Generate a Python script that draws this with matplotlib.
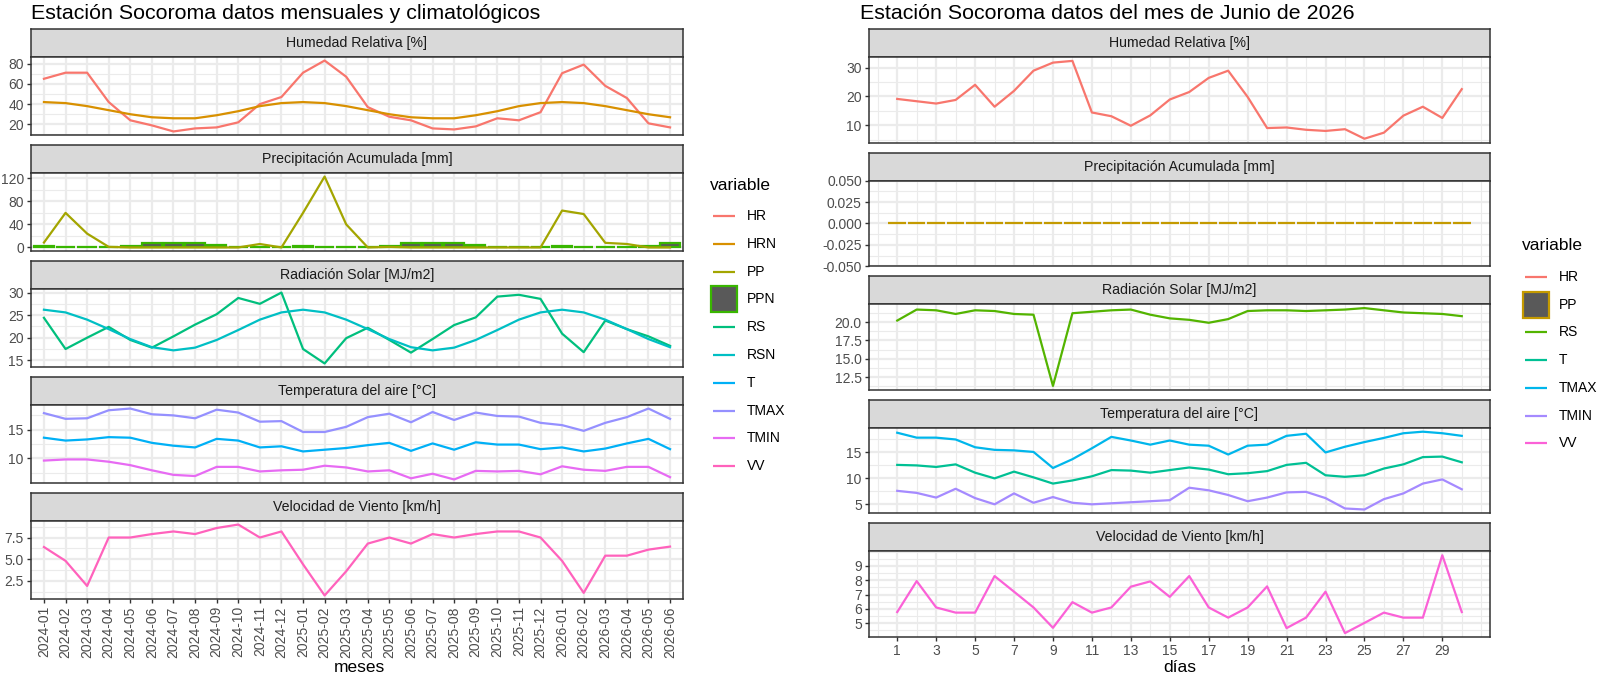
import matplotlib
matplotlib.use("Agg")
import matplotlib.pyplot as plt
from matplotlib.patches import Rectangle
from matplotlib.ticker import AutoMinorLocator

plt.rcParams['font.family'] = ['Liberation Sans', 'DejaVu Sans']
plt.rcParams['axes.unicode_minus'] = False

W, H = 1600, 677

# ---- datos mensuales (panel izquierdo) ----
meses = ['2024-01', '2024-02', '2024-03', '2024-04', '2024-05', '2024-06',
         '2024-07', '2024-08', '2024-09', '2024-10', '2024-11', '2024-12',
         '2025-01', '2025-02', '2025-03', '2025-04', '2025-05', '2025-06',
         '2025-07', '2025-08', '2025-09', '2025-10', '2025-11', '2025-12',
         '2026-01', '2026-02', '2026-03', '2026-04', '2026-05', '2026-06']
hr_m = [65, 71, 71, 42, 24, 19, 13, 16, 17, 22, 40, 47, 71, 83, 67, 37, 27.5, 24,
        16, 15, 18, 26, 24, 32, 70.5, 79, 58, 46, 21, 17]
hrn_m = [42, 41, 38, 34, 30, 27, 26, 26, 29, 33, 38, 41, 42, 41, 38, 34, 30, 27,
         26, 26, 29, 33, 38, 41, 42, 41, 38, 34, 30, 27]
pp_m = [8.5, 60, 24, 1, 0, 0, 0, 0, 0, 0, 6, 0, 60, 123, 40, 0, 1, 0,
        0, 0, 0, 0, 0, 0, 64, 58, 8, 6, 0, 0]
ppn_m = [3, 0.3, 0.3, 1.5, 2, 8, 8, 8, 5, 0, 0.3, 0.5, 3, 0.3, 0.3, 1.5, 2, 8,
         8, 8, 5, 0, 0.3, 0.5, 3, 0.3, 0.3, 1.5, 2, 8]
rs_m = [24.4, 17.5, 20, 22.4, 19.5, 17.8, 20.3, 22.9, 25.2, 28.8, 27.5, 30, 17.5, 14.3,
        19.9, 22.2, 19.5, 16.7, 19.7, 22.8, 24.5, 29.1, 29.5, 28.6, 20.9, 16.8, 23.8,
        21.9, 20.3, 18.2]
rsn_m = [26.2, 25.6, 24, 21.9, 19.7, 17.9, 17.2, 17.8, 19.5, 21.7, 24, 25.6, 26.2, 25.6,
         24, 21.9, 19.7, 17.9, 17.2, 17.8, 19.5, 21.7, 24, 25.6, 26.2, 25.6, 24, 21.9,
         19.7, 17.9]
t_m = [13.6, 13.1, 13.3, 13.7, 13.6, 12.7, 12.2, 11.9, 13.4, 13.1, 11.9, 12.1, 11.2, 11.5,
       11.8, 12.3, 12.7, 11.3, 12.6, 11.5, 12.8, 12.4, 12.4, 11.6, 11.9, 11.2, 11.7, 12.6,
       13.4, 11.6]
tmax_m = [17.9, 16.9, 17.0, 18.4, 18.7, 17.7, 17.5, 17.0, 18.5, 18.0, 16.4, 16.5, 14.6,
          14.6, 15.5, 17.2, 17.8, 16.3, 18.1, 16.7, 18.0, 17.4, 17.3, 16.2, 15.8, 14.8,
          16.2, 17.2, 18.7, 16.9]
tmin_m = [9.6, 9.8, 9.8, 9.4, 8.8, 7.9, 7.1, 6.9, 8.5, 8.5, 7.7, 7.9, 8.0, 8.7, 8.4, 7.7,
          7.9, 6.5, 7.3, 6.3, 7.8, 7.7, 7.8, 7.2, 8.6, 8.0, 7.8, 8.5, 8.5, 6.7]
vv_m = [6.4, 4.8, 1.9, 7.5, 7.5, 7.9, 8.2, 7.9, 8.6, 9.0, 7.5, 8.2, 4.4, 0.8, 3.6, 6.8,
        7.5, 6.8, 7.9, 7.5, 7.9, 8.2, 8.2, 7.5, 4.8, 1.1, 5.4, 5.4, 6.1, 6.45]

# ---- datos diarios junio 2026 (panel derecho) ----
dias = list(range(1, 31))
hr_d = [19.1, 18.3, 17.5, 18.75, 24, 16.4, 21.9, 28.9, 31.7, 32.3, 14.4, 13.1, 9.8, 13.4,
        18.9, 21.5, 26.4, 28.9, 19.8, 9.0, 9.2, 8.4, 8.0, 8.6, 5.3, 7.4, 13.3, 16.4, 12.5, 22.5]
pp_d = [0] * 30
rs_d = [20.2, 21.7, 21.6, 21.1, 21.6, 21.5, 21.1, 21.0, 11.3, 21.2, 21.4, 21.6, 21.7, 21.0,
        20.5, 20.3, 19.9, 20.4, 21.5, 21.6, 21.6, 21.5, 21.6, 21.7, 21.9, 21.6, 21.3, 21.2,
        21.1, 20.8]
t_d = [12.6, 12.5, 12.2, 12.7, 11.1, 10.0, 11.3, 10.2, 9.0, 9.6, 10.4, 11.6, 11.5, 11.1,
       11.6, 12.1, 11.7, 10.8, 11.0, 11.4, 12.6, 13.0, 10.6, 10.3, 10.6, 11.9, 12.7, 14.1,
       14.2, 13.1]
tmax_d = [18.8, 17.85, 17.85, 17.5, 16.0, 15.5, 15.4, 15.1, 12.0, 13.7, 15.8, 18.0, 17.3,
          16.5, 17.3, 16.5, 16.3, 14.6, 16.3, 16.5, 18.2, 18.6, 15.0, 16.1, 17.0, 17.8,
          18.7, 19.0, 18.7, 18.2]
tmin_d = [7.6, 7.2, 6.3, 8.0, 6.2, 5.0, 7.1, 5.3, 6.4, 5.3, 5.0, 5.2, 5.4, 5.6, 5.8, 8.2,
          7.7, 6.8, 5.6, 6.3, 7.3, 7.4, 6.2, 4.2, 4.0, 6.0, 7.1, 9.0, 9.8, 7.9]
vv_d = [5.78, 7.94, 6.1, 5.74, 5.74, 8.29, 7.2, 6.1, 4.68, 6.47, 5.74, 6.1, 7.55, 7.92,
        6.84, 8.29, 6.1, 5.39, 6.1, 7.57, 4.66, 5.39, 7.2, 4.31, 5.02, 5.74, 5.39, 5.39,
        9.74, 5.78]

facetas = ['Humedad Relativa [%]', 'Precipitación Acumulada [mm]', 'Radiación Solar [MJ/m2]',
           'Temperatura del aire [°C]', 'Velocidad de Viento [km/h]']

col_m = {'HR': '#F8766D', 'HRN': '#D89000', 'PP': '#A3A500', 'PPN': '#39B600',
         'RS': '#00BF7D', 'RSN': '#00BFC4', 'T': '#00B0F6', 'TMAX': '#9590FF',
         'TMIN': '#E76BF3', 'VV': '#FF62BC'}
col_d = {'HR': '#F8766D', 'PP': '#C49A00', 'RS': '#53B400', 'T': '#00C094',
         'TMAX': '#00B6EB', 'TMIN': '#A58AFF', 'VV': '#FB61D7'}

LW = 1.6
BORDER = '#333333'
fig = plt.figure(figsize=(W / 100, H / 100), dpi=100)

# capa en pixeles para titulos y leyendas
over = fig.add_axes([0, 0, 1, 1], zorder=5)
over.set_xlim(0, W)
over.set_ylim(H, 0)
over.axis('off')


def box(x0, y0, x1, y1):
    return [x0 / W, 1 - y1 / H, (x1 - x0) / W, (y1 - y0) / H]


def facets(x0, x1, top, strip_h, panel_h, gap):
    axs = []
    for i, name in enumerate(facetas):
        st = top + i * (strip_h + panel_h + gap)
        sax = fig.add_axes(box(x0, st, x1, st + strip_h))
        sax.set_facecolor('#D9D9D9')
        sax.set_xticks([])
        sax.set_yticks([])
        for s in sax.spines.values():
            s.set_color(BORDER)
            s.set_linewidth(1.1)
        sax.text(0.5, 0.5, name, ha='center', va='center', fontsize=10.2, color='#1A1A1A',
                 transform=sax.transAxes)
        ax = fig.add_axes(box(x0, st + strip_h, x1, st + strip_h + panel_h))
        ax.set_axisbelow(True)
        for s in ax.spines.values():
            s.set_color(BORDER)
            s.set_linewidth(1.1)
        ax.yaxis.set_minor_locator(AutoMinorLocator(2))
        ax.grid(which='major', color='#EBEBEB', linewidth=1.6)
        ax.grid(which='minor', color='#EBEBEB', linewidth=0.8)
        ax.tick_params(axis='y', which='major', length=3.2, width=1.0, color=BORDER,
                       labelsize=10, labelcolor='#4D4D4D', pad=2)
        ax.tick_params(axis='y', which='minor', length=0)
        axs.append(ax)
    return axs


def ylim(ax, series, zero=False):
    vals = [v for s in series for v in s]
    if zero:
        vals.append(0)
    lo, hi = min(vals), max(vals)
    if hi == lo:
        ax.set_ylim(lo - 0.05, hi + 0.05)
    else:
        pad = 0.05 * (hi - lo)
        ax.set_ylim(lo - pad, hi + pad)


def leyenda(x, y_title, y0, step, colores, caja):
    over.text(x, y_title, 'variable', fontsize=12.5, ha='left', va='center')
    for i, (k, c) in enumerate(colores.items()):
        y = y0 + i * step
        if k == caja:
            over.add_patch(Rectangle((x + 1, y - 13), 26, 26, facecolor='#595959',
                                     edgecolor=c, linewidth=LW))
        else:
            over.plot([x + 3, x + 25], [y, y], color=c, lw=LW, solid_capstyle='butt')
        over.text(x + 37, y, k, fontsize=10, ha='left', va='center')


# ================= panel izquierdo =================
L = facets(31, 683, 29, 28, 78, 10)
x = list(range(len(meses)))
L[0].plot(x, hr_m, color=col_m['HR'], lw=LW)
L[0].plot(x, hrn_m, color=col_m['HRN'], lw=LW)
ylim(L[0], [hr_m, hrn_m])
L[0].set_yticks([20, 40, 60, 80])

L[1].bar(x, ppn_m, width=0.9, color='#595959', edgecolor=col_m['PPN'], linewidth=LW)
L[1].plot(x, pp_m, color=col_m['PP'], lw=LW)
ylim(L[1], [pp_m, ppn_m], zero=True)
L[1].set_yticks([0, 40, 80, 120])

L[2].plot(x, rs_m, color=col_m['RS'], lw=LW)
L[2].plot(x, rsn_m, color=col_m['RSN'], lw=LW)
ylim(L[2], [rs_m, rsn_m])
L[2].set_yticks([15, 20, 25, 30])

L[3].plot(x, t_m, color=col_m['T'], lw=LW)
L[3].plot(x, tmax_m, color=col_m['TMAX'], lw=LW)
L[3].plot(x, tmin_m, color=col_m['TMIN'], lw=LW)
ylim(L[3], [t_m, tmax_m, tmin_m])
L[3].set_yticks([10, 15])

L[4].plot(x, vv_m, color=col_m['VV'], lw=LW)
ylim(L[4], [vv_m])
L[4].set_yticks([2.5, 5.0, 7.5], ['2.5', '5.0', '7.5'])

for i, ax in enumerate(L):
    ax.set_xlim(-0.6, len(meses) - 0.4)
    ax.set_xticks(x)
    if i < 4:
        ax.tick_params(axis='x', length=0, labelbottom=False)
    else:
        ax.set_xticklabels(meses, rotation=90)
        ax.tick_params(axis='x', length=3.2, width=1.0, color=BORDER, labelsize=10,
                       labelcolor='#4D4D4D', pad=2)

over.text(31, 19, 'Estación Socoroma datos mensuales y climatológicos',
          fontsize=15.4, va='baseline', ha='left', color='black')
over.text(359, 668, 'meses', fontsize=12.5, ha='center', va='center')
leyenda(710, 185, 216, 27.8, col_m, 'PPN')

# ================= panel derecho =================
RX0, RX1 = 869, 1490
R = facets(RX0, RX1, 29, 28, 85.6, 10)
R[0].plot(dias, hr_d, color=col_d['HR'], lw=LW)
ylim(R[0], [hr_d])
R[0].set_yticks([10, 20, 30])

R[1].bar(dias, pp_d, width=0.9, color='#595959', edgecolor=col_d['PP'], linewidth=LW)
ylim(R[1], [pp_d], zero=True)
R[1].set_yticks([-0.05, -0.025, 0, 0.025, 0.05],
                ['-0.050', '-0.025', '0.000', '0.025', '0.050'])

R[2].plot(dias, rs_d, color=col_d['RS'], lw=LW)
ylim(R[2], [rs_d])
R[2].set_yticks([12.5, 15, 17.5, 20], ['12.5', '15.0', '17.5', '20.0'])

R[3].plot(dias, t_d, color=col_d['T'], lw=LW)
R[3].plot(dias, tmax_d, color=col_d['TMAX'], lw=LW)
R[3].plot(dias, tmin_d, color=col_d['TMIN'], lw=LW)
ylim(R[3], [t_d, tmax_d, tmin_d])
R[3].set_yticks([5, 10, 15])

R[4].plot(dias, vv_d, color=col_d['VV'], lw=LW)
ylim(R[4], [vv_d])
R[4].set_yticks([5, 6, 7, 8, 9])

for i, ax in enumerate(R):
    ax.set_xlim(1 - 1.45, 30 + 1.45)
    ax.set_xticks(list(range(1, 30, 2)))
    ax.xaxis.set_minor_locator(AutoMinorLocator(2))
    ax.tick_params(axis='x', which='minor', length=0)
    if i < 4:
        ax.tick_params(axis='x', length=0, labelbottom=False)
    else:
        ax.tick_params(axis='x', length=3.2, width=1.0, color=BORDER, labelsize=10,
                       labelcolor='#4D4D4D', pad=2)

over.text(860, 19, 'Estación Socoroma datos del mes de Junio de 2026',
          fontsize=15.4, va='baseline', ha='left', color='black')
over.text((RX0 + RX1) / 2, 668, 'días', fontsize=12.5, ha='center', va='center')
leyenda(1522, 246, 277, 27.7, col_d, 'PP')

fig.savefig('out.png', dpi=100)
